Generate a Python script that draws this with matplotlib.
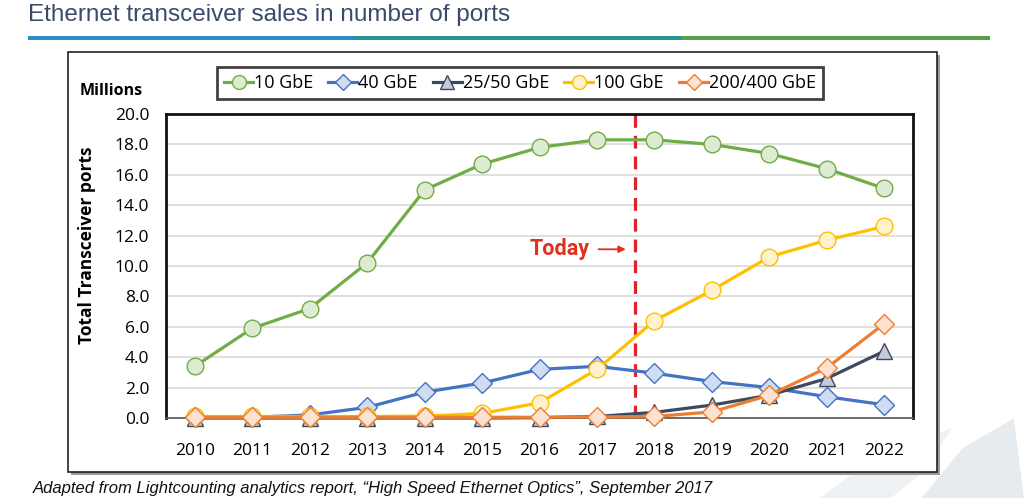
import matplotlib.pyplot as plt
from matplotlib.patches import Rectangle, Polygon
from matplotlib.lines import Line2D

years = [str(y) for y in range(2010, 2023)]
ge10 = [3.4, 5.9, 7.2, 10.2, 15.0, 16.7, 17.8, 18.3, 18.3, 18.0, 17.4, 16.4, 15.1]
ge40 = [0.05, 0.05, 0.2, 0.7, 1.7, 2.3, 3.2, 3.4, 2.95, 2.4, 2.0, 1.4, 0.87]
ge25_50 = [0.0, 0.0, 0.0, 0.0, 0.0, 0.0, 0.02, 0.1, 0.37, 0.85, 1.5, 2.6, 4.4]
ge100 = [0.1, 0.1, 0.1, 0.1, 0.12, 0.3, 1.0, 3.2, 6.4, 8.4, 10.6, 11.7, 12.6]
ge200_400 = [0.05, 0.05, 0.05, 0.05, 0.05, 0.05, 0.05, 0.07, 0.1, 0.4, 1.5, 3.3, 6.2]
labels = ["10 GbE", "40 GbE", "25/50 GbE", "100 GbE", "200/400 GbE"]
today_pos = 7.67

# (line colour, marker face, marker)
styles = [("#70ad47", "#dcebd2", "o"),
          ("#4472c4", "#cfdcf1", "D"),
          ("#3d4a5e", "#c3cad8", "^"),
          ("#ffc000", "#fff2cc", "o"),
          ("#ed7d31", "#fbe2d2", "D")]

TICK_FONT = "Open Sans"
fig = plt.figure(figsize=(10.24, 4.98), dpi=100)

# header
fig.text(28/1024, 1-15/498, "Ethernet transceiver sales in number of ports",
         family="Liberation Sans", fontsize=17.5, color="#3b4a6b",
         va="center", ha="left")
for x0, x1, c in [(28, 355, "#2e8bc8"), (355, 681, "#24968f"),
                  (681, 990, "#5a9e4a")]:
  fig.add_artist(Rectangle((x0/1024, 1-40/498), (x1-x0)/1024, 4/498,
                           transform=fig.transFigure, color=c, lw=0))

# faint decoration bottom-right
fig.add_artist(Polygon([(0.80, 0.0), (0.86, 0.09), (0.93, 0.14), (0.90, 0.05),
                        (0.87, 0.0)], closed=True, transform=fig.transFigure,
                       color="#eef2f4", lw=0, zorder=0))
fig.add_artist(Polygon([(0.90, 0.0), (0.94, 0.10), (0.99, 0.16), (1.0, 0.0)],
                       closed=True, transform=fig.transFigure,
                       color="#e6ebef", lw=0, zorder=0))

# chart frame with shadow
fig.add_artist(Rectangle((71/1024, 1-475/498), 869/1024, 420/498,
                         transform=fig.transFigure, color="#9a9a9a", lw=0,
                         zorder=1))
fig.add_artist(Rectangle((68/1024, 1-472/498), 869/1024, 420/498,
                         transform=fig.transFigure, facecolor="white",
                         edgecolor="#222222", lw=1.2, zorder=1))

ax = fig.add_axes([166/1024, 1-418/498, 747/1024, 304/498])
ax.set_zorder(2)
x = list(range(len(years)))
for vals, (lc, fc, mk) in zip([ge10, ge40, ge25_50, ge100, ge200_400], styles):
  ms = 12 if mk == "o" else (10 if mk == "D" else 12)
  ax.plot(x, vals, color=lc, lw=2.3, marker=mk, markersize=ms,
          markerfacecolor=fc, markeredgecolor=lc, markeredgewidth=1.0,
          clip_on=False, zorder=3)

ax.set_xlim(-0.5, len(years) - 0.5)
ax.set_ylim(0, 20)
ax.set_yticks([i*2 for i in range(11)])
ax.set_yticklabels([f"{i*2:.1f}" for i in range(11)], family=TICK_FONT,
                   fontsize=12.5)
ax.set_xticks(x)
ax.set_xticklabels(years, family=TICK_FONT, fontsize=12.5)
ax.tick_params(axis="x", length=0, pad=18)
ax.tick_params(axis="y", length=0, pad=12)
ax.grid(axis="y", color="#d9d9d9", lw=1.2)
ax.set_axisbelow(True)
for s in ["left", "top", "right"]:
  ax.spines[s].set_linewidth(2)
  ax.spines[s].set_color("#111111")
ax.spines["bottom"].set_color("#555555")
ax.spines["bottom"].set_linewidth(1.2)

# today marker
ax.axvline(today_pos, color="#e0202a", lw=2.3, ls=(0, (4, 2.5)), zorder=2)
ax.text(6.35, 11.1, "Today", color="#e0301e", fontsize=15.5,
        fontweight="bold", family="Roboto", ha="center", va="center")
ax.annotate("", xy=(7.55, 11.1), xytext=(6.98, 11.1),
            arrowprops=dict(arrowstyle="-|>", color="#e0301e", lw=1.3,
                            mutation_scale=10))

ax.set_ylabel("Total Transceiver ports", family=TICK_FONT, fontsize=12.5,
              fontweight="bold")
ax.yaxis.set_label_coords(-0.094, 0.569)
fig.text(80/1024, 1-91/498, "Millions", family=TICK_FONT, fontsize=11.5,
         fontweight="bold", va="center")

handles = [Line2D([], [], color=lc, lw=2.3, marker=mk,
                  markersize=10 if mk != "D" else 8.5, markerfacecolor=fc,
                  markeredgecolor=lc) for lc, fc, mk in styles]
leg = fig.legend(handles, labels, loc="center", ncol=5,
                 bbox_to_anchor=(520/1024, 1-83/498), frameon=True,
                 fancybox=False, handlelength=1.6, handletextpad=0.05,
                 columnspacing=0.85, borderpad=0.4,
                 prop={"family": TICK_FONT, "size": 13})
leg.get_frame().set_edgecolor("#111111")
leg.get_frame().set_linewidth(2)
leg.set_zorder(3)

fig.text(33/1024, 1-488/498,
         "Adapted from Lightcounting analytics report, \u201cHigh Speed "
         "Ethernet Optics\u201d, September 2017",
         family="Liberation Sans", style="italic", fontsize=12,
         va="center", ha="left", color="#111111")

fig.savefig("out.png", dpi=100)
